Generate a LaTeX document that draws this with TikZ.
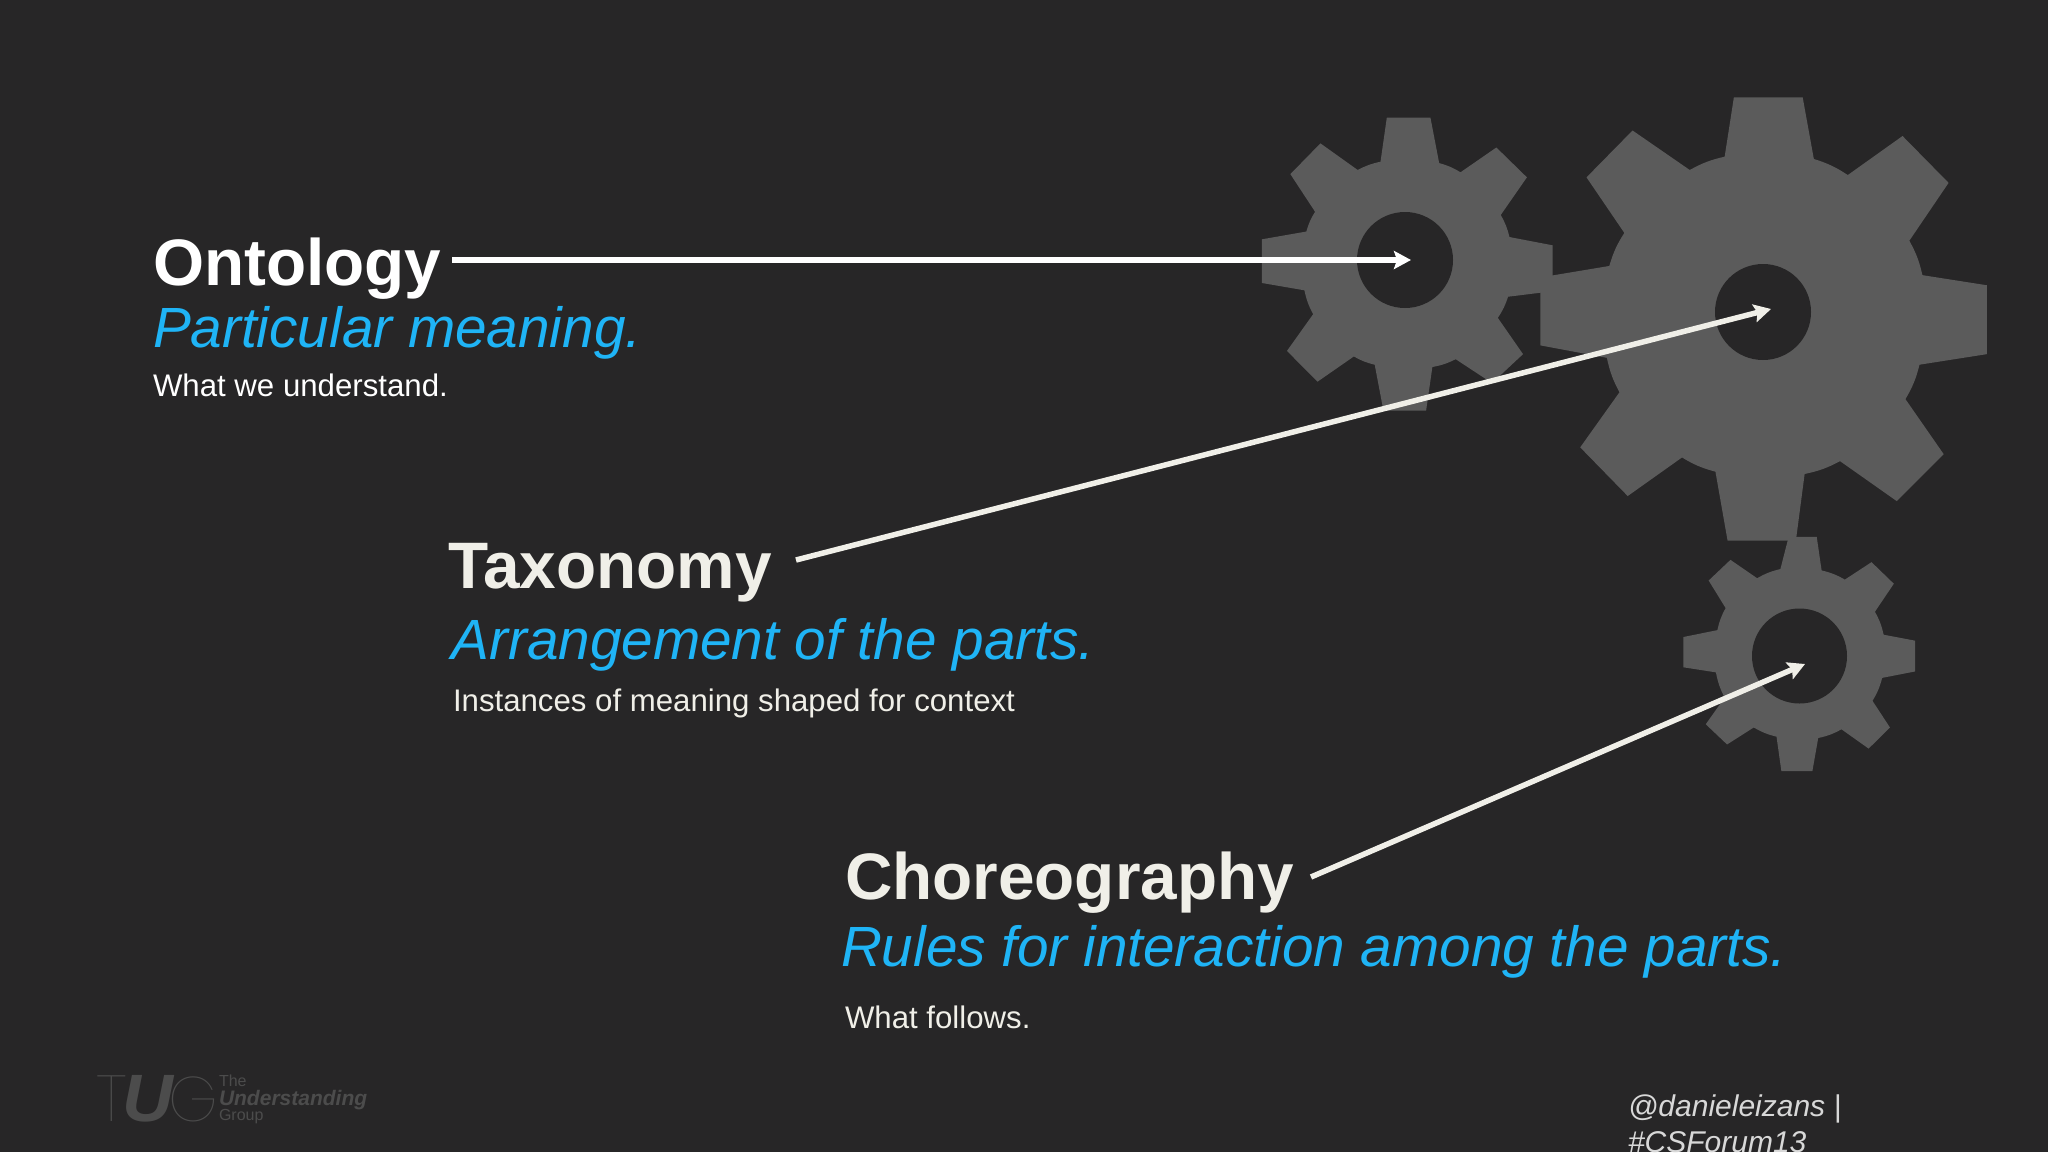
\documentclass[tikz,border=0pt]{standalone}
\usepackage{fontspec}
\usetikzlibrary{arrows.meta}
\setmainfont{Liberation Sans}
\newfontfamily\thinlogo{Poppins}[UprightFont=* Thin]
\definecolor{bgc}{HTML}{272627}
\definecolor{gearc}{HTML}{5B5B5B}
\definecolor{bluec}{HTML}{1FB4F6}
\definecolor{creamc}{HTML}{F0EFE8}
\definecolor{logoc}{HTML}{4C4C4C}
\definecolor{tagc}{HTML}{D8D8D8}
\tikzset{
  x=1pt,y=-1pt,
  lab/.style={anchor=base west,inner sep=0pt,outer sep=0pt},
  headw/.style={lab,font=\fontsize{65.7}{65}\selectfont\bfseries},
  subt/.style={lab,font=\fontsize{56.7}{55}\selectfont\itshape,text=bluec},
  smallt/.style={lab,font=\fontsize{31.2}{31}\selectfont},
  tagt/.style={lab,font=\fontsize{30}{31}\selectfont\itshape,text=tagc},
  pointer/.style={line width=5.5pt,-{Stealth[length=17pt,width=18pt,inset=3pt]}},
  gearshape/.style={fill=gearc},
  holeshape/.style={fill=bgc},
  valley/.style={bend left=8},
  zoomed/.style={x=0.4847pt,y=-0.4592pt,shift={(2558.2,174.2)}},
}
\begin{document}
\begin{tikzpicture}
\useasboundingbox (0,0) rectangle (2048,1152);
\clip (0,0) rectangle (2048,1152);
\fill[bgc] (0,0) rectangle (2048,1152);

\begin{scope}[zoomed]
% gear 1
\fill[gearshape] (303,82)--(393,82)--(411,181) to[valley] (455,201)--(529,147)--(592,212)--(538,294) to[valley] (556,342)--(645,360)--(645,460)--(553,472) to[valley] (532,518)--(584,597)--(520,660)--(445,608) to[valley] (397,625)--(384,720)--(296,720)--(278,620) to[valley] (235,602)--(160,657)--(97,590)--(151,510) to[valley] (133,458)--(45,442)--(45,347)--(137,330) to[valley] (155,287)--(104,205)--(166,138)--(243,196) to[valley] (290,178)--cycle;
% gear 2
\fill[gearshape] (1019,38)--(1161,38)--(1184,172) to[valley] (1254,207)--(1367,122)--(1462,224)--(1381,350) to[valley] (1408,425)--(1541,447)--(1541,597)--(1402,620) to[valley] (1373,695)--(1452,815)--(1355,917)--(1238,830) to[valley] (1165,858)--(1147,1003)--(1006,1003)--(981,853) to[valley] (912,822)--(800,906)--(702,800)--(783,680) to[valley] (757,605)--(620,578)--(620,430)--(762,405) to[valley] (793,333)--(715,212)--(810,110)--(928,196) to[valley] (1000,167)--cycle;
% gear 3
\fill[gearshape] (1132,995)--(1190,995)--(1200,1068) to[valley] (1248,1088)--(1303,1050)--(1349,1097)--(1310,1158) to[valley] (1328,1208)--(1393,1221)--(1393,1288)--(1325,1302) to[valley] (1305,1352)--(1341,1410)--(1297,1456)--(1241,1414) to[valley] (1193,1433)--(1181,1505)--(1117,1505)--(1107,1430) to[valley] (1060,1410)--(1005,1447)--(961,1403)--(1000,1345) to[valley] (982,1290)--(915,1279)--(915,1213)--(985,1198) to[valley] (1002,1150)--(967,1090)--(1012,1045)--(1067,1085) to[valley] (1115,1065)--cycle;
\end{scope}
\fill[holeshape] (1405,260) circle [radius=48];
\fill[holeshape] (1763,312) circle [radius=48];
\fill[holeshape] (1799.5,656) circle [radius=47.5];

% texts
\node[headw,text=white] (ont) at (153,285) {Ontology};
\node[subt] (ontsub) at (153,347) {Particular meaning.};
\node[smallt,text=white] (ontnote) at (153,396) {What we understand.};
\node[headw,text=creamc] (tax) at (448,588) {Taxonomy};
\node[subt] (taxsub) at (451.5,659) {Arrangement of the parts.};
\node[smallt,text=creamc] (taxnote) at (453,711) {Instances of meaning shaped for context};
\node[headw,text=creamc] (cho) at (845,899) {Choreography};
\node[subt] (chosub) at (841,966.5) {Rules for interaction among the parts.};
\node[smallt,text=creamc] (chonote) at (845,1028) {What follows.};
\node[tagt] (tag1) at (1628,1116.5) {@danieleizans |};
\node[tagt] (tag2) at (1628,1152) {\#CSForum13};

% arrows
\coordinate (ontstart) at (452,260);
\coordinate (ontend) at (1411,260);
\coordinate (taxstart) at (796,560);
\coordinate (taxend) at (1771,309);
\coordinate (chostart) at (1311,877);
\coordinate (choend) at (1805,664);
\draw[pointer,white] (ontstart) -- (ontend);
\draw[pointer,creamc] (taxstart) -- (taxend);
\draw[pointer,creamc] (chostart) -- (choend);

% logo
\node[lab,text=logoc,font=\fontsize{65}{65}\selectfont\thinlogo] (logot) at (96,1121) {T};
\node[lab,text=logoc,font=\fontsize{67}{67}\selectfont\bfseries\itshape,xscale=1.05] (logou) at (122,1121) {U};
\node[lab,text=logoc,font=\fontsize{63}{63}\selectfont\thinlogo] (logog) at (168,1121) {G};
\node[lab,text=logoc,font=\fontsize{16}{16}\selectfont] (logo1) at (219,1086) {The};
\node[lab,text=logoc,font=\fontsize{21}{21}\selectfont\bfseries\itshape] (logo2) at (219,1105) {Understanding};
\node[lab,text=logoc,font=\fontsize{16}{16}\selectfont] (logo3) at (219,1120) {Group};
\end{tikzpicture}
\end{document}
